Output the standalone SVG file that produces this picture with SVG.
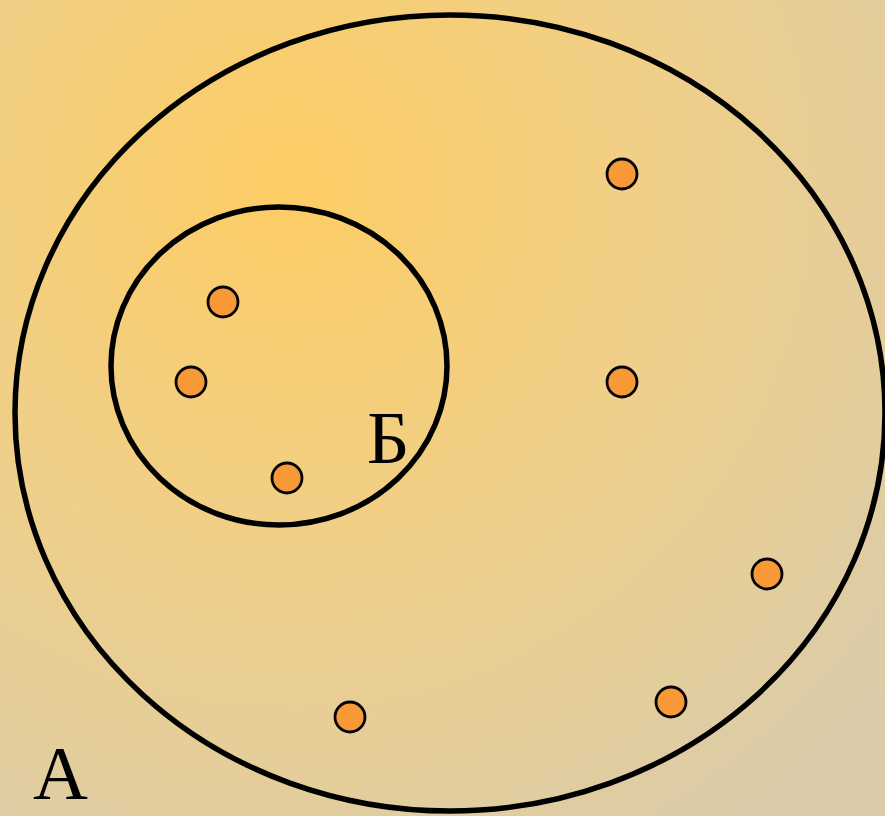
<svg xmlns="http://www.w3.org/2000/svg" width="885" height="816" viewBox="0 0 885 816">
<defs>
<radialGradient id="bg" gradientUnits="userSpaceOnUse" cx="290" cy="185" r="780">
<stop offset="0" stop-color="#FDCD64"/>
<stop offset="0.5" stop-color="#EFCF8A"/>
<stop offset="1" stop-color="#DACCAA"/>
</radialGradient>
</defs>
<style>
.set{fill:none;stroke:#000;stroke-width:5.5}
.pt{fill:#F79937;stroke:#000;stroke-width:2.8}
.lbl{font-family:"Liberation Serif","Times New Roman",serif;fill:#000}
</style>
<rect width="885" height="816" fill="url(#bg)"/>
<g id="setA"><ellipse class="set" cx="450" cy="413" rx="435" ry="398"/></g>
<g id="setB"><ellipse class="set" cx="279" cy="366" rx="168" ry="159"/></g>
<g id="points">
<circle class="pt" cx="223" cy="302" r="15"/>
<circle class="pt" cx="191" cy="382" r="15"/>
<circle class="pt" cx="287" cy="478" r="15"/>
<circle class="pt" cx="622" cy="174" r="15"/>
<circle class="pt" cx="622" cy="382" r="15"/>
<circle class="pt" cx="767" cy="574" r="15"/>
<circle class="pt" cx="671" cy="702" r="15"/>
<circle class="pt" cx="350" cy="717" r="15"/>
</g>
<g id="labels">
<text class="lbl" x="33" y="799" font-size="76">А</text>
<text class="lbl" x="367" y="463" font-size="74">Б</text>
</g>
</svg>
